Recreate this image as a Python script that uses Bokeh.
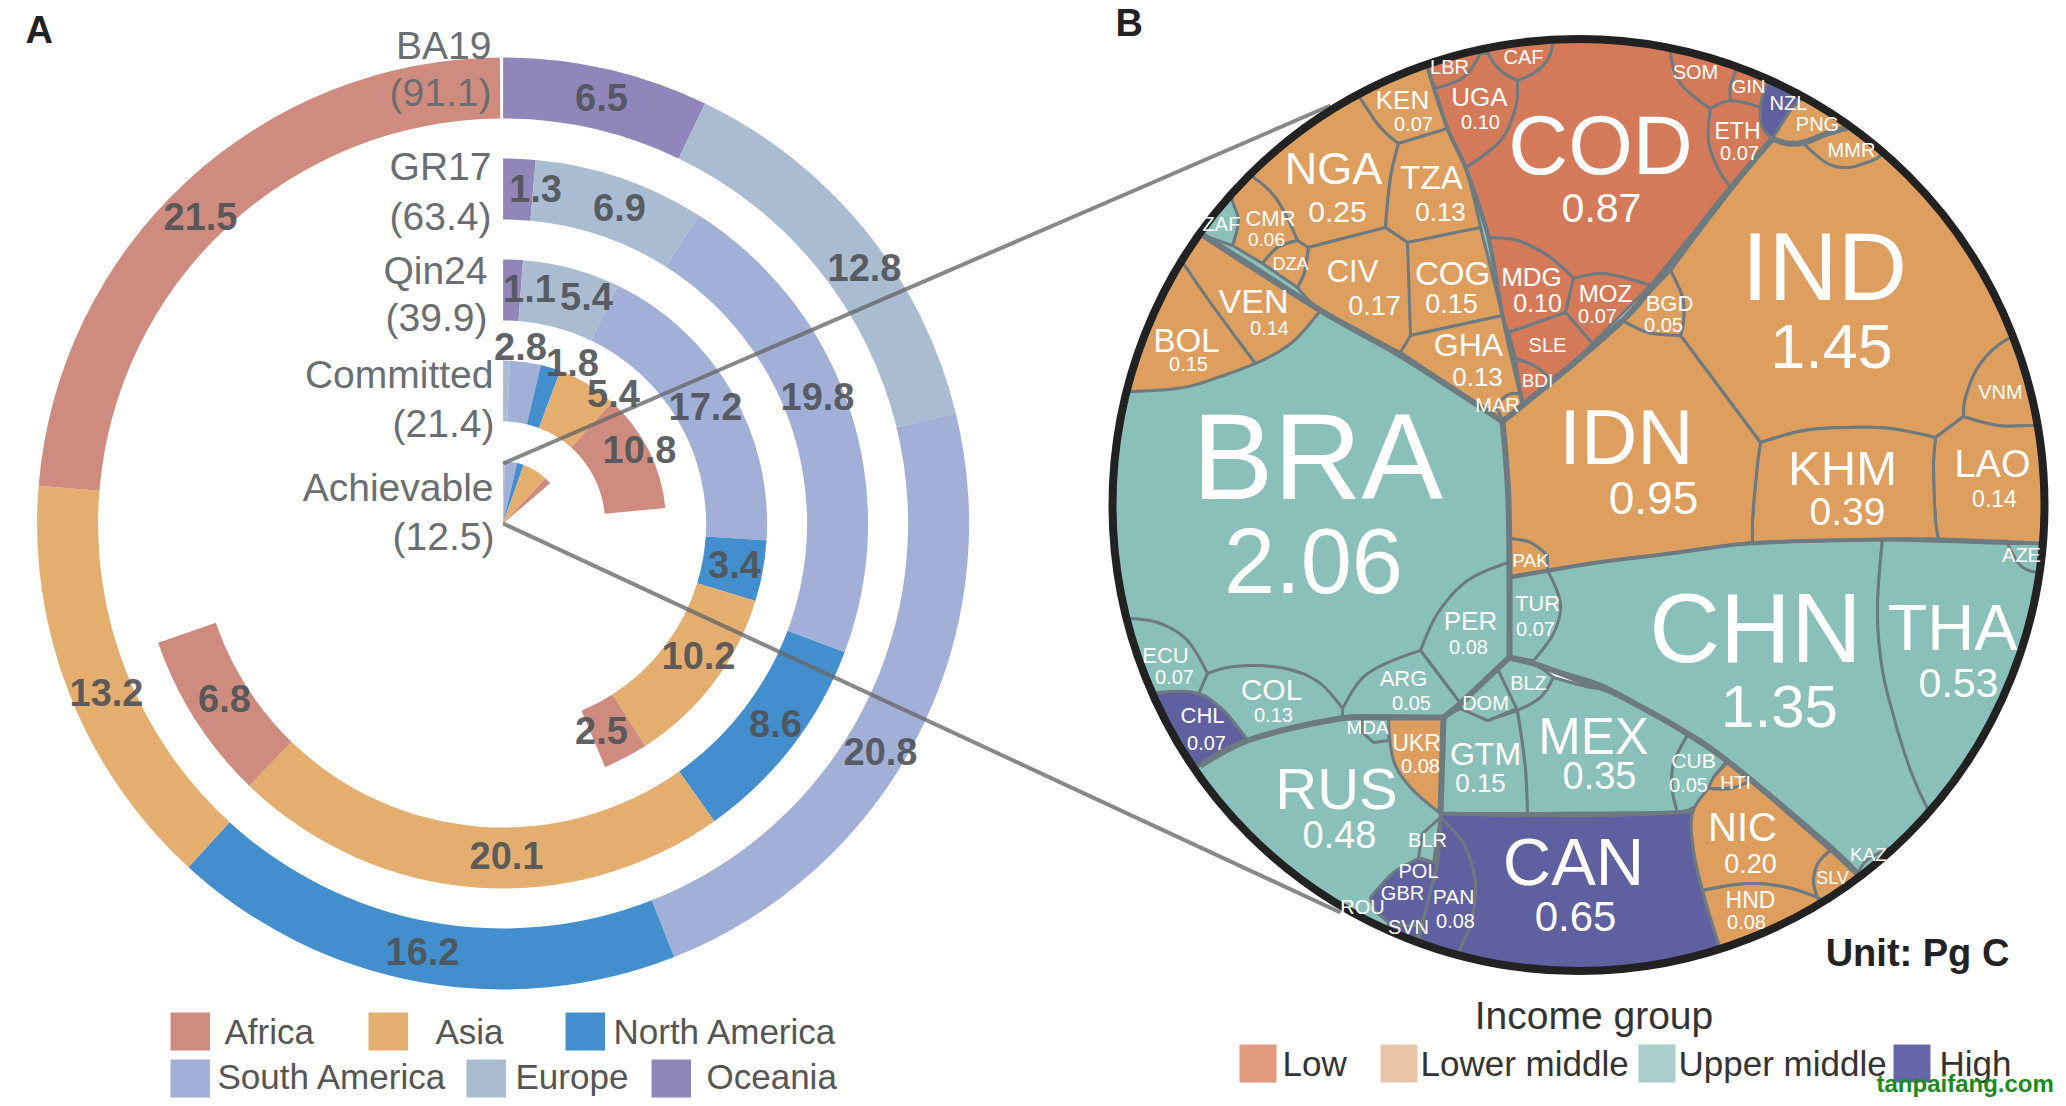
import math
from bokeh.plotting import figure
from bokeh.models import ColumnDataSource, Range1d
from bokeh.core.properties import value
from bokeh.embed import file_html
from bokeh.resources import INLINE

# ---------- Panel A data ----------
continents = ["Oceania", "Europe", "South America", "North America", "Asia", "Africa"]
scenarios = ["BA19", "GR17", "Qin24", "Committed", "Achievable"]
totals = [91.1, 63.4, 39.9, 21.4, 12.5]
ba19 = [6.5, 12.8, 20.8, 16.2, 13.2, 21.5]
gr17 = [1.3, 6.9, 19.8, 8.6, 20.1, 6.8]
qin24 = [1.1, 5.4, 17.2, 3.4, 10.2, 2.5]
committed = [0.0, 0.6, 2.8, 1.8, 5.4, 10.8]
achievable = [0.0, 0.4, 2.9, 1.6, 6.0, 1.6]
axis_max = 91.1

# ---------- Panel B data ----------
countries = ["BRA","IND","CHN","IDN","COD","CAN","THA","RUS","KHM","MEX","NGA","NIC","CIV","COG","GTM","BOL",
             "VEN","LAO","TZA","GHA","COL","UGA","MDG","PER","UKR","PAN","KEN","ETH","MOZ","TUR","ECU","CHL",
             "CMR","ARG","BGD","CUB","HND"]
country_values = [2.06,1.45,1.35,0.95,0.87,0.65,0.53,0.48,0.39,0.35,0.25,0.20,0.17,0.15,0.15,0.15,
                  0.14,0.14,0.13,0.13,0.13,0.10,0.10,0.08,0.08,0.08,0.07,0.07,0.07,0.07,0.07,0.07,
                  0.06,0.05,0.05,0.05,0.08]
low_income = ["COD","UGA","LBR","CAF","SOM","GIN","ETH","MDG","MOZ","SLE","BDI"]
lower_middle = ["BOL","VEN","CMR","DZA","NGA","KEN","TZA","CIV","COG","GHA","MAR","PNG","MMR","IND","VNM",
                "LAO","KHM","IDN","PAK","BGD","UKR","HTI","NIC","HND","SLV"]
high_income = ["NZL","CAN","PAN","GBR","SVN","CHL"]
income_labels = ["Low", "Lower middle", "Upper middle", "High"]

# ---------- Styles / layout (reference pixels) ----------
W, H = 2066, 1106
cont_col = {"Oceania": "#9186B9", "Europe": "#A9BCD2", "South America": "#A2B0D8",
            "North America": "#438FCE", "Asia": "#E4AE6E", "Africa": "#CF8C7E"}
inc_col = {"low": "#D57A58", "lm": "#DD9E5E", "um": "#8AC0BA", "high": "#5F609F"}
LINE = "#6D7A80"
FONT = value("Liberation Sans")

def Y(y):
    return H - y

p = figure(width=2058, height=1098, output_backend="svg", toolbar_location=None,
           x_range=Range1d(0, 2058), y_range=Range1d(8, 1106), min_border=0)
p.axis.visible = False
p.grid.visible = False
p.outline_line_color = None

def put(xs, ys, texts, sizes, color="white", align="center", style="normal", alpha=1.0):
    src = ColumnDataSource(dict(x=list(xs), y=[Y(v) for v in ys], t=list(texts),
                                s=[f"{v}px" for v in sizes]))
    p.text("x", "y", text="t", source=src, text_font=FONT, text_font_size="s", text_color=color,
           text_align=align, text_baseline="middle", text_font_style=style, text_alpha=alpha)

# ---------- Panel A ----------
CA = (502.6, 523.0)
radii = [(405, 466), (304, 365), (203, 264), (102, 163), (0, 62)]
rings = [ba19, gr17, qin24, committed, achievable]
for ring, (ri, ro) in zip(rings, radii):
    cum = 0.0
    for name, v in zip(continents, ring):
        if v > 0:
            a0 = math.pi / 2 - cum / axis_max * 2 * math.pi
            a1 = math.pi / 2 - (cum + v) / axis_max * 2 * math.pi
            p.annular_wedge(x=[CA[0]], y=[Y(CA[1])], inner_radius=ri, outer_radius=ro,
                            start_angle=a1, end_angle=a0, direction="anticlock",
                            fill_color=cont_col[name], line_color=None)
        cum += v

# connector lines
p.line([CA[0], 1330], [Y(463), Y(105)], line_color="#666666", line_alpha=0.78, line_width=4)
p.line([CA[0], 1340], [Y(CA[1]), Y(912)], line_color="#666666", line_alpha=0.78, line_width=4)

ring_text = ["6.5","12.8","20.8","16.2","13.2","21.5","1.3","6.9","19.8","8.6","20.1","6.8",
             "1.1","5.4","17.2","3.4","10.2","2.5","2.8","1.8","5.4","10.8"]
ring_x = [601,864,880,422,106,200,535,619,817,775,506,224,529,586,705,734,698,601,520,572,613,639]
ring_y = [97,267,751,951,692,216,188,207,396,723,855,698,288,296,406,564,655,730,346,362,393,449]
put(ring_x, ring_y, ring_text, [38] * len(ring_text), color="#4F5358", style="bold", alpha=0.92)

sc_right = [491, 491, 487, 493, 493]
sc_y = [44.5, 166, 270, 374, 487]
tot_right = [491, 491, 487, 494, 494]
tot_y = [92, 216, 317, 423, 536]
put(sc_right, sc_y, scenarios, [39] * 5, color="#6A6E72", align="right")
put(tot_right, tot_y, [f"({t})" for t in totals], [39] * 5, color="#6A6E72", align="right")

leg_names = ["Africa", "Asia", "North America", "South America", "Europe", "Oceania"]
sw_x = [170, 368, 565, 170, 466, 651]
sw_y = [1012, 1012, 1012, 1059, 1059, 1059]
for n, x, y in zip(leg_names, sw_x, sw_y):
    p.quad(left=[x], right=[x + 39.5], top=[Y(y)], bottom=[Y(y + 38)], fill_color=cont_col[n], line_color=None)
put([224, 435, 613, 217, 515, 706], [1031, 1031, 1031, 1076, 1076, 1076], leg_names, [35] * 6, color="#555555", align="left")

# ---------- Panel B ----------
CB = (1578.0, 504.5)
RB = 466.0
clip_ring = [(CB[0] + RB * math.cos(2 * math.pi * i / 180), CB[1] + RB * math.sin(2 * math.pi * i / 180))
             for i in range(180)]

def clip(poly):
    out = poly
    for i in range(len(clip_ring)):
        a, b = clip_ring[i], clip_ring[(i + 1) % len(clip_ring)]
        fx, fy = b[0] - a[0], b[1] - a[1]
        side = lambda q: fx * (q[1] - a[1]) - fy * (q[0] - a[0])
        new = []
        for j in range(len(out)):
            c, d = out[j], out[(j + 1) % len(out)]
            sc, sd = side(c), side(d)
            if sc >= 0:
                new.append(c)
            if (sc >= 0) != (sd >= 0):
                t = sc / (sc - sd)
                new.append((c[0] + t * (d[0] - c[0]), c[1] + t * (d[1] - c[1])))
        out = new
    return out

def smooth(pts, closed=True, corner=38.0, steps=6):
    """Round the arcs of a cell outline; sharp junctions stay sharp."""
    n = len(pts)
    def at(i):
        return pts[i % n] if closed else pts[max(0, min(n - 1, i))]
    def is_corner(i):
        if not closed and (i <= 0 or i >= n - 1):
            return True
        a, b, c = at(i - 1), at(i), at(i + 1)
        d = abs(math.degrees(math.atan2(c[1] - b[1], c[0] - b[0]) - math.atan2(b[1] - a[1], b[0] - a[0]))) % 360
        return min(d, 360 - d) > corner
    def tangent(i, seg):
        if is_corner(i):
            return (0.0, 0.0)
        a, c = at(i - 1), at(i + 1)
        dx, dy = c[0] - a[0], c[1] - a[1]
        ln = math.hypot(dx, dy) or 1.0
        return (dx / ln * seg, dy / ln * seg)
    out = []
    for i in range(n if closed else n - 1):
        a, b = at(i), at(i + 1)
        seg = math.hypot(b[0] - a[0], b[1] - a[1])
        ta, tb = tangent(i, seg), tangent(i + 1, seg)
        for k in range(steps):
            t = k / steps
            h1, h2 = 2*t**3 - 3*t**2 + 1, t**3 - 2*t**2 + t
            h3, h4 = -2*t**3 + 3*t**2, t**3 - t**2
            out.append((h1*a[0] + h2*ta[0] + h3*b[0] + h4*tb[0], h1*a[1] + h2*ta[1] + h3*b[1] + h4*tb[1]))
    if not closed:
        out.append(pts[-1])
    return out

# cell outlines, painted in order
CELLS = [
 ("BRA", [(1080,200),(1510,200),(1510,770),(1080,770)]),
 ("BOL", [(1183,263),(1255,363),(1223,375),(1183,387),(1130,391),(1090,391),(1090,263)]),
 ("VEN", [(1183,263),(1170,230),(1203,235),(1320,310),(1297,337),(1277,352),(1255,363)]),
 ("NGA", [(1253,177),(1277,200),(1297,240),(1308,247),(1385,227),(1390,177),(1398,143),(1380,127),(1360,98),(1340,70),(1230,150)]),
 ("ZAF", [(1232,200),(1238,220),(1232,245),(1203,235),(1190,195)]),
 ("CMR", [(1253,177),(1277,200),(1297,240),(1277,247),(1262,263),(1232,245),(1238,220),(1232,200),(1230,170)]),
 ("DZA", [(1262,263),(1277,247),(1297,240),(1308,247),(1304,272),(1297,287)]),
 ("KEN", [(1345,75),(1360,98),(1380,127),(1398,143),(1447,128),(1428,70),(1415,45)]),
 ("TZA", [(1398,143),(1447,128),(1465,167),(1480,227),(1407,242),(1385,227),(1390,177)]),
 ("CIV", [(1385,227),(1407,242),(1410,335),(1400,352),(1320,310),(1297,287),(1304,272),(1308,247)]),
 ("COG", [(1407,242),(1480,227),(1502,315),(1410,335)]),
 ("GHA", [(1410,335),(1502,315),(1522,402),(1503,421),(1400,352)]),
 ("MAR", [(1495,405),(1508,394),(1519,393),(1522,405),(1503,421)]),
 ("COD", [(1465,167),(1500,140),(1515,107),(1517,80),(1537,70),(1550,53),(1553,20),(1670,20),(1670,53),(1680,83),(1710,108),(1708,140),(1717,167),(1730,187),(1650,285),(1603,273),(1573,278),(1550,257),(1517,240),(1488,237)]),
 ("LBR", [(1428,70),(1434,88),(1463,77),(1480,53),(1470,25),(1415,45)]),
 ("UGA", [(1434,88),(1463,77),(1480,53),(1488,53),(1500,70),(1517,80),(1515,107),(1500,140),(1465,167),(1447,128)]),
 ("CAF", [(1488,53),(1500,70),(1517,80),(1537,70),(1550,53),(1553,25),(1485,25)]),
 ("SOM", [(1670,53),(1680,83),(1710,108),(1730,100),(1730,85),(1735,70),(1735,30),(1670,20)]),
 ("GIN", [(1735,70),(1730,85),(1730,100),(1760,107),(1767,83),(1770,50),(1735,30)]),
 ("ETH", [(1710,108),(1730,100),(1760,107),(1762,127),(1772,138),(1730,187),(1717,167),(1708,140)]),
 ("MDG", [(1488,237),(1517,240),(1550,257),(1573,278),(1565,312),(1508,332),(1502,315)]),
 ("MOZ", [(1573,278),(1603,273),(1650,285),(1592,343),(1565,312)]),
 ("SLE", [(1508,332),(1565,312),(1592,343),(1553,383),(1537,367),(1515,358)]),
 ("BDI", [(1515,358),(1537,367),(1553,383),(1522,410),(1520,393)]),
 ("IND", [(1772,138),(1670,270),(1682,297),(1683,320),(1680,335),(1760,442),(1803,430),(1847,427),(1890,428),(1935,437),(1963,416),(1965,397),(1980,363),(2010,337),(2070,320),(2070,60),(1850,60)]),
 ("NZL", [(1767,83),(1760,107),(1762,127),(1772,138),(1790,110),(1803,95),(1790,60)]),
 ("PNG", [(1772,138),(1790,110),(1803,95),(1810,70),(1870,110),(1847,127),(1827,133),(1803,142),(1787,143)]),
 ("MMR", [(1803,143),(1827,163),(1847,167),(1863,163),(1880,155),(1900,120),(1847,127),(1827,133)]),
 ("VNM", [(1963,416),(1965,397),(1980,363),(2010,337),(2070,320),(2070,425),(2033,425),(1997,425)]),
 ("LAO", [(1935,437),(1963,416),(1997,425),(2033,425),(2070,425),(2070,545),(1938,539),(1935,520),(1933,463)]),
 ("KHM", [(1760,442),(1803,430),(1847,427),(1890,428),(1935,437),(1933,463),(1935,520),(1938,539),(1752,542),(1752,520),(1757,463)]),
 ("BGD", [(1670,270),(1682,297),(1683,320),(1680,335),(1647,332),(1622,320)]),
 ("IDN", [(1502,421),(1622,320),(1647,332),(1680,335),(1760,442),(1757,463),(1752,520),(1752,542),(1670,553),(1590,563),(1547,570),(1547,555),(1530,542),(1509,538),(1508,500)]),
 ("PAK", [(1509,538),(1530,542),(1547,555),(1547,570),(1510,576)]),
 ("CHN", [(1510,576),(1590,563),(1670,553),(1748,543),(1882,539),(1877,617),(1887,693),(1927,808),(1915,875),(1857,873),(1830,847),(1730,763),(1687,733),(1613,690),(1590,680),(1509,657)]),
 ("THA", [(1882,539),(1877,617),(1887,693),(1927,808),(1960,830),(2070,800),(2070,545),(2007,543)]),
 ("AZE", [(2007,543),(2020,565),(2037,572),(2070,572),(2070,543)]),
 ("KAZ", [(1857,873),(1866,860),(1888,848),(1900,880),(1870,890)]),
 ("TUR", [(1509,577),(1547,570),(1560,603),(1553,633),(1533,660),(1509,657)]),
 ("PER", [(1508,562),(1467,580),(1437,613),(1420,650),(1460,703),(1509,657)]),
 ("ARG", [(1420,650),(1460,703),(1443,717),(1342,717),(1342,708),(1367,673)]),
 ("COL", [(1342,708),(1320,683),(1293,670),(1257,665),(1227,667),(1207,673),(1198,693),(1223,710),(1247,740),(1342,717)]),
 ("ECU", [(1090,618),(1130,618),(1160,623),(1187,640),(1207,673),(1198,693),(1173,692),(1157,692),(1090,690)]),
 ("CHL", [(1157,692),(1198,693),(1223,710),(1247,740),(1200,765),(1150,770),(1120,700)]),
 ("RUS", [(1200,765),(1247,740),(1342,717),(1443,717),(1440,813),(1430,900),(1400,990),(1300,990),(1130,800)]),
 ("MDA", [(1362,717),(1362,732),(1373,742),(1388,740),(1390,717)]),
 ("UKR", [(1388,718),(1443,718),(1440,813),(1410,787),(1393,760)]),
 ("BLR", [(1440,817),(1422,833),(1418,857),(1433,862)]),
 ("CAN", [(1440,813),(1590,815),(1690,811),(1692,820),(1693,850),(1702,890),(1718,943),(1730,1000),(1400,1000),(1418,960),(1437,863)]),
 ("PAN", [(1440,817),(1463,843),(1475,883),(1470,923),(1460,948),(1445,990),(1405,985),(1418,940),(1425,910),(1437,863)]),
 ("GBR", [(1370,897),(1393,872),(1418,858),(1437,863),(1425,910),(1417,935),(1395,940),(1390,925),(1375,910)]),
 ("SVN", [(1387,925),(1417,925),(1418,965),(1380,965)]),
 ("GTM", [(1443,717),(1460,708),(1487,720),(1517,710),(1525,767),(1527,813),(1440,813)]),
 ("DOM", [(1460,703),(1497,668),(1517,708),(1487,720),(1460,708)]),
 ("BLZ", [(1497,668),(1509,657),(1533,663),(1553,677),(1540,697),(1517,710)]),
 ("MEX", [(1517,710),(1540,697),(1553,677),(1590,687),(1613,690),(1687,735),(1673,763),(1672,790),(1677,812),(1527,813),(1525,767)]),
 ("CUB", [(1687,735),(1727,760),(1713,777),(1708,788),(1693,807),(1677,812),(1672,790),(1673,763)]),
 ("NIC", [(1692,812),(1708,788),(1730,788),(1750,780),(1830,850),(1818,862),(1813,880),(1817,897),(1787,887),(1747,883),(1702,890),(1693,850)]),
 ("HTI", [(1727,762),(1750,780),(1733,787),(1708,788),(1713,777)]),
 ("HND", [(1702,890),(1747,883),(1787,887),(1817,897),(1830,930),(1740,1000),(1718,943)]),
 ("SLV", [(1830,850),(1818,862),(1813,880),(1817,897),(1840,905),(1862,880)]),
]

def group_of(c):
    if c in low_income:
        return "low"
    if c in lower_middle:
        return "lm"
    if c in high_income:
        return "high"
    return "um"

xs, ys, fills = [], [], []
for name, poly in CELLS:
    q = clip(smooth(poly))
    xs.append([a for a, _ in q])
    ys.append([Y(b) for _, b in q])
    fills.append(inc_col[group_of(name)])
p.patches(xs, ys, fill_color=fills, line_color=LINE, line_width=3, line_join="round")

# group boundaries
THICK = [
 [(1203,235),(1320,310),(1400,355),(1502,421)],
 [(1502,421),(1622,320),(1670,263),(1730,188),(1772,138)],
 [(1502,421),(1508,500),(1509,657)],
 [(1509,657),(1497,668),(1460,703),(1443,717)],
 [(1509,657),(1533,663),(1590,684),(1613,692),(1687,733),(1730,763),(1830,847),(1857,873)],
 [(1443,717),(1390,717),(1340,718),(1247,740),(1200,765)],
 [(1443,717),(1440,813)],
 [(1772,138),(1787,143),(1803,142),(1827,133),(1847,127)],
]
THIN = [
 [(1510,577),(1590,563),(1670,553),(1748,543),(1880,539),(1938,539),(2040,543)],
 [(1440,813),(1590,815),(1690,811)],
 [(1428,70),(1447,128),(1465,167),(1488,237),(1502,315),(1522,402)],
]
for lines, w in ((THICK, 6), (THIN, 4)):
    sm = [smooth(l, closed=False) for l in lines]
    p.multi_line([[a for a, _ in l] for l in sm], [[Y(b) for _, b in l] for l in sm],
                 line_color=LINE, line_width=w, line_join="round")

# outer border
p.circle(x=[CB[0]], y=[Y(CB[1])], radius=RB, fill_color=None, line_color="#222222", line_width=8)

# labels: name -> (x, y, size) for the name and (x, y, size) for the value
NAME_POS = {
 "BRA":(1317,456,122),"CHN":(1755,627,98),"IND":(1824,266,96),"COD":(1600,145,83),"IDN":(1626,436,78),
 "CAN":(1573,861,67),"THA":(1952,627,65),"RUS":(1336,788,58),"MEX":(1593,736,51),"KHM":(1842,467,49),
 "NGA":(1333,168,45),"NIC":(1742,826,40),"LAO":(1992,463,38),"TZA":(1431,177,33),"COG":(1452,273,33),
 "VEN":(1253,300,34),"BOL":(1186,340,33),"CIV":(1352,271,31),"GHA":(1468,344,32),"GTM":(1485,753,32),
 "COL":(1271,689,30),"KEN":(1402,99,26),"UGA":(1479,96,26),"MDG":(1531,276,26),"PER":(1470,620,26),
 "MOZ":(1605,293,24),"ETH":(1737,130,23),"UKR":(1416,742,23),"HND":(1750,899,23),"TUR":(1537,603,22),
 "CMR":(1270,218,22),"BGD":(1669,303,22),"ARG":(1403,678,22),"ECU":(1165,655,22),"CHL":(1202,715,22),
 "PAN":(1453,896,21),"CUB":(1693,760,21),"LBR":(1449,66,20),"CAF":(1523,56,20),"ZAF":(1221,223,20),
 "MAR":(1497,404,20),"SLE":(1547,344,20),"SOM":(1695,71,20),"NZL":(1788,102,20),"PNG":(1817,123,20),
 "MMR":(1851,149,20),"VNM":(2000,391,20),"DOM":(1485,702,20),"BLZ":(1528,682,20),"BLR":(1427,839,20),
 "POL":(1418,870,20),"GBR":(1402,892,20),"ROU":(1362,906,20),"SVN":(1408,926,20),"AZE":(2021,554,20),
 "DZA":(1290,263,18),"GIN":(1748,86,19),"BDI":(1537,380,19),"PAK":(1530,560,19),"MDA":(1367,727,19),
 "HTI":(1735,782,19),"KAZ":(1868,854,19),"SLV":(1832,877,18),
}
VALUE_POS = {
 "BRA":(1313,560,92),"CHN":(1779,706,60),"IND":(1831,346,63),"COD":(1601,207,41),"IDN":(1653,497,46),
 "CAN":(1575,916,42),"THA":(1958,682,41),"RUS":(1339,834,38),"MEX":(1599,775,38),"KHM":(1847,511,39),
 "NGA":(1337,211,30),"NIC":(1750,863,27),"LAO":(1994,498,23),"TZA":(1440,211,26),"COG":(1451,303,27),
 "VEN":(1269,327,20),"BOL":(1188,363,20),"CIV":(1374,305,27),"GHA":(1477,376,26),"GTM":(1480,782,26),
 "COL":(1273,714,20),"KEN":(1413,123,20),"UGA":(1480,121,20),"MDG":(1537,302,25),"PER":(1468,646,20),
 "MOZ":(1597,315,20),"ETH":(1739,152,20),"UKR":(1420,765,20),"HND":(1746,921,20),"TUR":(1535,628,20),
 "CMR":(1266,239,19),"BGD":(1663,324,20),"ARG":(1411,702,20),"ECU":(1174,676,20),"CHL":(1206,742,20),
 "PAN":(1455,920,20),"CUB":(1688,784,20),
}
nx, ny, nt, ns = [], [], [], []
for k, (x, y, s) in NAME_POS.items():
    nx.append(x); ny.append(y); nt.append(k); ns.append(s)
val = dict(zip(countries, country_values))
for k, (x, y, s) in VALUE_POS.items():
    nx.append(x); ny.append(y); nt.append(f"{val[k]:.2f}"); ns.append(s)
put(nx, ny, nt, ns, color="#FFFFFF")

put([1917], [952], ["Unit: Pg C"], [38], color="#222222", style="bold")

# income legend
put([1593.5], [1015], ["Income group"], [39], color="#333333")
inc_sw = [1239, 1380, 1638, 1893]
inc_leg = ["#E29A7E", "#E8C5A8", "#A8CFC9", "#6766A8"]
for x, c in zip(inc_sw, inc_leg):
    p.quad(left=[x], right=[x + 37], top=[Y(1044)], bottom=[Y(1082)], fill_color=c, line_color=None)
put([1282, 1420, 1678, 1939], [1063] * 4, income_labels, [35] * 4, color="#333333", align="left")

# panel letters and site mark
put([25, 1115], [29, 22], ["A", "B"], [38, 38], color="#222222", align="left", style="bold")
put([1876], [1083], ["tanpaifang.com"], [24], color="#1E8A1E", align="left", style="bold")

open("out.html", "w").write(file_html(p, INLINE))
